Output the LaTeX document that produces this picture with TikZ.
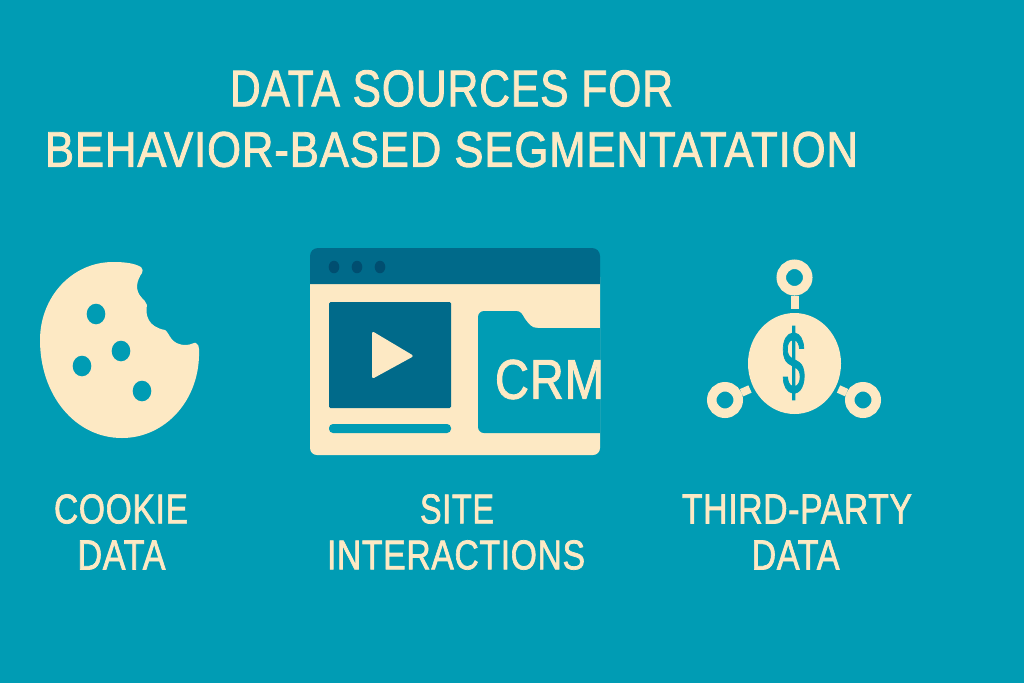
\documentclass[tikz,border=0pt]{standalone}
\usepackage{fontspec}
\usepackage{graphicx}
\setmainfont{Liberation Sans}[FakeBold=1.8,LetterSpace=2]
\newfontfamily\dollarfont{Poppins}[FakeBold=1.5]
\definecolor{bgteal}{RGB}{0,156,180}
\definecolor{cream}{RGB}{253,233,196}
\definecolor{deepblue}{RGB}{0,106,138}
\definecolor{dotblue}{RGB}{0,78,112}
\tikzset{
  lbl/.style={text=cream,inner sep=0pt,anchor=center},
  ringnode/.style={circle,draw=cream,line width=9.5pt,fill=none,minimum size=26.5pt,inner sep=0pt},
  stem/.style={draw=cream,line width=8pt},
  hole/.style={fill=bgteal},
}
\newcommand{\fitted}[3]{\resizebox{#1pt}{#2pt}{#3}}
\begin{document}
\begin{tikzpicture}[x=1pt,y=-1pt]
\useasboundingbox (0,0) rectangle (1024,683);
\fill[bgteal] (0,0) rectangle (1024,683);
% title
\node[lbl] (t1) at (451.5,88.5) {\fitted{443}{36}{DATA SOURCES FOR}};
\node[lbl] (t2) at (451.5,149.5) {\fitted{813}{35}{BEHAVIOR-BASED SEGMENTATATION}};
% cookie
\fill[cream] (113,262) .. controls (124,262) and (134,263) .. (141,267)
  .. controls (143,269) and (143,271) .. (142,273)
  .. controls (137,280) and (134,290) .. (142,298)
  .. controls (144,300) and (146,302) .. (147,305)
  .. controls (145,315) and (148,327) .. (165,330)
  .. controls (170,333) and (170,345) .. (186,345)
  .. controls (191,345) and (194,342) .. (196,343)
  .. controls (198,344) and (199,346) .. (199,349)
  .. controls (201,400) and (165,438) .. (122,438)
  .. controls (75,438) and (40,395) .. (40,340)
  .. controls (40,297) and (72,262) .. (113,262) -- cycle;
\foreach \n/\x/\y in {a/96/314,b/121/351,c/82/366,d/142/391}
  \fill[hole] (\x,\y) ellipse [x radius=9.3,y radius=10.3];
% window
\fill[cream,rounded corners=7pt] (310,270) -- (310,455) -- (600,455) -- (600,270) -- cycle;
\fill[deepblue] (310,284) [rounded corners=8pt] -- (310,248) -- (600,248) [sharp corners] -- (600,284) -- cycle;
\foreach \x in {334,357,380}
  \fill[dotblue] (\x,267) ellipse [x radius=5.3,y radius=6.3];
\fill[deepblue,rounded corners=1.5pt] (329,302) rectangle (451,408);
\fill[cream,rounded corners=2.5pt] (372,331) -- (414,356) -- (372,379) -- cycle;
\fill[bgteal,rounded corners=4pt] (329,424) rectangle (451,433);
\fill[bgteal] (600,328) -- (538,328)
  .. controls (531,328) and (529,324) .. (525,319)
  .. controls (522,314) and (521,311) .. (516,311)
  [rounded corners=6pt] -- (478,311) -- (478,433) [sharp corners] -- (600,433) -- cycle;
\node[lbl] (crm) at (549.5,379.5) {\fitted{109}{39}{CRM}};
% network
\fill[cream] (794.5,363.5) ellipse [x radius=46.5,y radius=50.5];
\node[lbl] (dollar) at (794.5,363) {\textcolor{bgteal}{\fitted{28}{66}{\dollarfont\$}}};
\node[ringnode] (r1) at (794.5,277.5) {};
\node[ringnode] (r2) at (725,400) {};
\node[ringnode] (r3) at (863,400) {};
\coordinate (s1) at (794.5,309);
\coordinate (s2) at (750,389);
\coordinate (s3) at (838.5,389);
\draw[stem] (r1) -- (s1);
\draw[stem] (r2) -- (s2);
\draw[stem] (r3) -- (s3);
% labels
\node[lbl] (l1a) at (121,509) {\fitted{134}{29}{COOKIE}};
\node[lbl] (l1b) at (121.5,555) {\fitted{88}{29}{DATA}};
\node[lbl] (l2a) at (457,509) {\fitted{74}{29}{SITE}};
\node[lbl] (l2b) at (456,555) {\fitted{258}{29}{INTERACTIONS}};
\node[lbl] (l3a) at (797,509) {\fitted{230}{29}{THIRD-PARTY}};
\node[lbl] (l3b) at (795.5,555) {\fitted{88}{29}{DATA}};
\end{tikzpicture}
\end{document}
